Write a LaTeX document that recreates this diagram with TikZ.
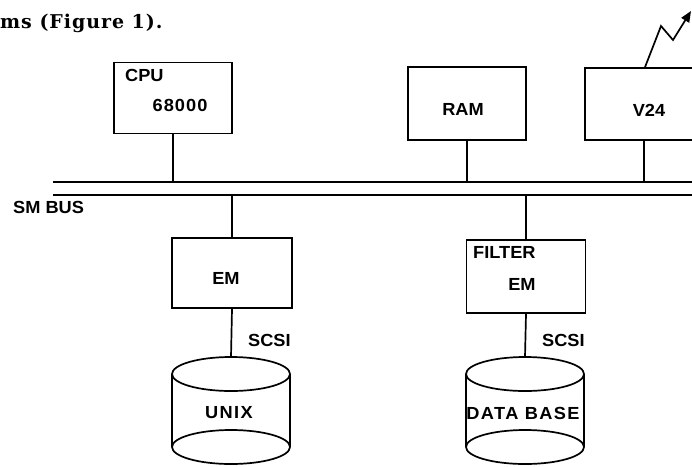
\documentclass[tikz,border=0pt]{standalone}
\usepackage{fontspec}
\setsansfont{Liberation Sans}[FakeStretch=1.04]
\newfontfamily\hdrfont{DejaVu Serif}[LetterSpace=5]
\usetikzlibrary{arrows.meta}
\begin{document}
\begin{tikzpicture}[x=1pt,y=-1pt,
  wire/.style={line width=1.7pt},
  unit/.style={draw,line width=1.7pt,minimum width=118pt,minimum height=71pt,inner sep=0pt},
  lbl/.style={font=\sffamily\bfseries\fontsize{17.5}{19}\selectfont,inner sep=0pt},
  disk/.style={line width=1.7pt}]
\useasboundingbox (0,0) rectangle (692,466);
\clip (0,0) rectangle (692,466);
% header text
\node[anchor=base west,inner sep=0pt,font=\hdrfont\bfseries\fontsize{19}{22}\selectfont] (hdr) at (0,28.5) {ms (Figure 1).};
% boxes
\node[unit] (cpu) at (173,98) {};
\node[lbl,anchor=north west] (cputxt) at (125,69) {CPU};
\node[lbl] (cpunum) at (180,105) {\addfontfeatures{LetterSpace=6}68000};
\node[unit,minimum height=73pt] (ram) at (467,103.5) {};
\node[lbl] (ramtxt) at (463,109) {RAM};
\node[unit,minimum width=130pt,minimum height=72pt] (v24) at (650,104) {};
\node[lbl] (v24txt) at (649,110) {V24};
\node[unit,minimum width=120pt,minimum height=70pt] (em) at (232,273) {};
\node[lbl] (emtxt) at (226,278) {EM};
\node[unit,minimum width=119pt,minimum height=73pt] (fem) at (526,276.5) {};
\node[lbl,anchor=north west] (femtxt1) at (473,246) {FILTER};
\node[lbl] (femtxt2) at (522,284) {EM};
% bus
\coordinate (busU) at (53,182);
\coordinate (busL) at (53,195);
\coordinate (busUe) at (700,182);
\coordinate (busLe) at (700,195);
\draw[wire] (busU) -- (busUe);
\draw[wire] (busL) -- (busLe);
\node[lbl,anchor=west] (bus) at (13,207) {SM BUS};
\draw[wire] (cpu.south) -- (cpu.south |- busU);
\draw[wire] (ram.south) -- (ram.south |- busU);
\draw[wire] ([xshift=-6pt]v24.south) -- ([xshift=-6pt]v24.south |- busU);
\draw[wire] (em.north) -- (em.north |- busL);
\draw[wire] (fem.north) -- (fem.north |- busL);
% lightning
\coordinate (z1) at (661,26);
\coordinate (z2) at (673,40);
\coordinate (ztip) at (691,11);
\draw[wire,-{Triangle[length=11pt,width=9pt]}] ([xshift=-5pt]v24.north) -- (z1) -- (z2) -- (ztip);
% disks
\foreach \n/\cx/\txt in {unix/231/UNIX, db/525/DATA BASE}{
  \draw[disk] (\cx-59,374) -- (\cx-59,447);
  \draw[disk] (\cx+59,374) -- (\cx+59,447);
  \draw[disk] (\cx,374) ellipse [x radius=59, y radius=17];
  \draw[disk] (\cx,447) ellipse [x radius=59, y radius=17];
  \coordinate (\n top) at (\cx,357);
  \node[lbl] (\n lbl) at (\cx-2,413) {\addfontfeatures{LetterSpace=8}\txt};
}
\draw[wire] (em.south) -- (unixtop);
\draw[wire] (fem.south) -- (dbtop);
\node[lbl,anchor=west] (scsi1) at (248,340) {SCSI};
\node[lbl,anchor=west] (scsi2) at (542,340) {SCSI};
\end{tikzpicture}
\end{document}
